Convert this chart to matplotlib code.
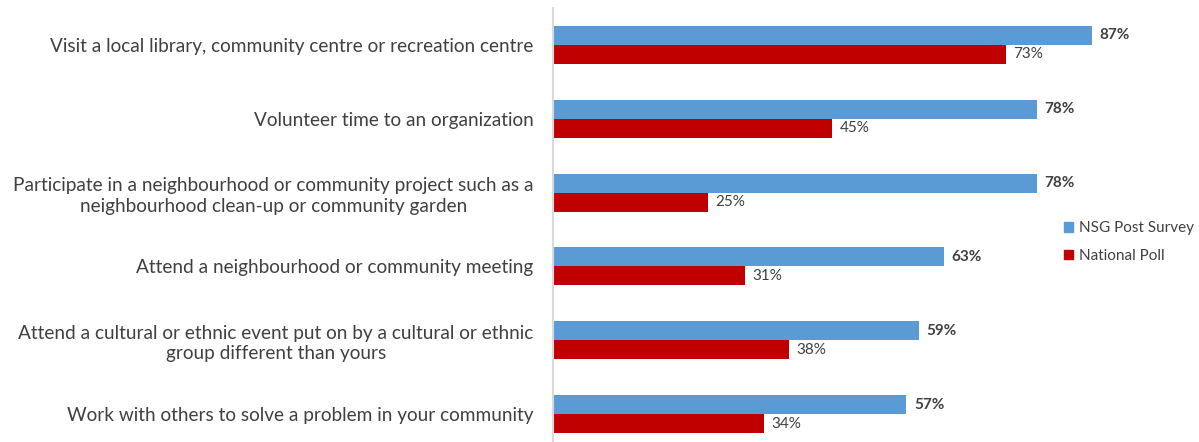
import matplotlib.pyplot as plt
from matplotlib.patches import Patch

categories = [
    "Visit a local library, community centre or recreation centre",
    "Volunteer time to an organization",
    "Participate in a neighbourhood or community project such as a\nneighbourhood clean-up or community garden",
    "Attend a neighbourhood or community meeting",
    "Attend a cultural or ethnic event put on by a cultural or ethnic\ngroup different than yours",
    "Work with others to solve a problem in your community",
]
nsg_post = [87, 78, 78, 63, 59, 57]
national_poll = [73, 45, 25, 31, 38, 34]
series_names = ["NSG Post Survey", "National Poll"]

plt.rcParams['font.family'] = ['Lato', 'DejaVu Sans']
text_color = '#404040'
blue = '#5b9bd5'
red = '#c00000'

W, H = 1199, 442
fig = plt.figure(figsize=(W / 100, H / 100), dpi=100)
ax = fig.add_axes([553 / W, -9 / H, 620 / W, 443 / H])

n = len(categories)
pos = list(range(n))
bh = 0.257
ax.barh([p - bh / 2 for p in pos], nsg_post, height=bh, color=blue, label=series_names[0])
ax.barh([p + bh / 2 for p in pos], national_poll, height=bh, color=red, label=series_names[1])

for p, v in zip(pos, nsg_post):
    ax.text(v + 1.2, p - bh / 2, f"{v}%", va='center', ha='left', fontsize=11,
            fontweight='bold', color=text_color)
for p, v in zip(pos, national_poll):
    ax.text(v + 1.2, p + bh / 2, f"{v}%", va='center', ha='left', fontsize=11,
            color=text_color)

ax.set_xlim(0, 100)
ax.set_ylim(n - 0.5, -0.5)
ax.set_yticks(pos)
ax.set_yticklabels(categories, fontsize=13.7, color=text_color,
                   multialignment='center', linespacing=1.25)
ax.tick_params(axis='y', length=0, pad=14)
ax.set_xticks([])
for s in ['top', 'right', 'bottom']:
    ax.spines[s].set_visible(False)
ax.spines['left'].set_color('#d9d9d9')
ax.spines['left'].set_linewidth(1.5)

handles = [Patch(color=blue), Patch(color=red)]
fig.legend(handles, series_names, loc='center left', bbox_to_anchor=(1050 / W, 1 - 242 / H),
           frameon=False, fontsize=11, labelcolor=text_color, handlelength=0.6,
           handleheight=0.6, handletextpad=0.4, labelspacing=0.9)

fig.savefig('out.png', dpi=100)
